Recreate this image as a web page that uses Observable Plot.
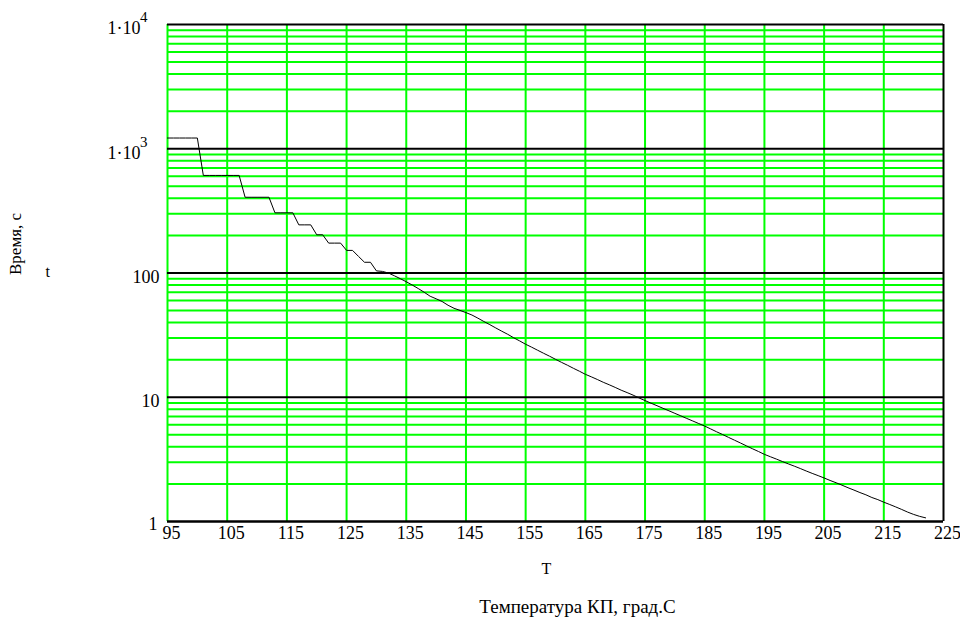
<!DOCTYPE html>
<html>
<head>
<meta charset="utf-8">
<script src="https://cdn.jsdelivr.net/npm/d3@7"></script>
<script src="https://cdn.jsdelivr.net/npm/@observablehq/plot@0.6"></script>
<style>
  html, body { margin: 0; padding: 0; background: #fff; }
  svg text { font-family: "Liberation Serif", "Times New Roman", serif !important; }
</style>
</head>
<body>
<div id="chart"></div>
<script>
// Temperature samples (°C)
const temperature = [
  95, 96, 97, 98, 99, 100, 101, 102, 103, 104, 105, 106, 107, 108, 109, 110,
  111, 112, 113, 114, 115, 116, 117, 118, 119, 120, 121, 122, 123, 124, 125,
  126, 127, 128, 129, 130, 131, 132, 133, 134, 135, 136, 137, 138, 139, 140,
  141, 142, 143, 144, 145, 146, 147, 148, 149, 150, 151, 152, 153, 154, 155,
  156, 157, 158, 159, 160, 161, 162, 163, 164, 165, 166, 167, 168, 169, 170,
  171, 172, 173, 174, 175, 176, 177, 178, 179, 180, 181, 182, 183, 184, 185,
  186, 187, 188, 189, 190, 191, 192, 193, 194, 195, 196, 197, 198, 199, 200,
  201, 202, 203, 204, 205, 206, 207, 208, 209, 210, 211, 212, 213, 214, 215,
  216, 217, 218, 219, 220, 221, 222
];
// Time (s)
const time = [
  1220, 1220, 1220, 1220, 1220, 1220,
  610, 610, 610, 610, 610, 610, 610,
  407, 407, 407, 407, 407,
  305, 305, 305, 305,
  244, 244, 244,
  203, 203,
  174, 174, 174,
  152, 152,
  136,
  122, 122,
  104, 103, 100,
  95, 90, 85, 80, 75, 70, 65, 62, 59, 55, 52, 50, 48,
  45.9, 43.3, 40.7, 38.4, 36.1, 34.0, 32.1, 30.1, 28.4, 26.7,
  25.3, 23.9, 22.6, 21.4, 20.2, 19.1, 18.1, 17.1, 16.2, 15.3,
  14.6, 13.9, 13.2, 12.6, 12.0, 11.4, 10.9, 10.4, 9.87, 9.4,
  8.96, 8.55, 8.15, 7.78, 7.42, 7.08, 6.75, 6.44, 6.14, 5.86,
  5.56, 5.27, 5.01, 4.75, 4.51, 4.28, 4.06, 3.85, 3.66, 3.47,
  3.32, 3.18, 3.04, 2.91, 2.79, 2.67, 2.55, 2.44, 2.34, 2.24,
  2.14, 2.05, 1.96, 1.87, 1.79, 1.71, 1.64, 1.56, 1.50, 1.43,
  1.37, 1.31, 1.25, 1.19, 1.14, 1.10, 1.07
];

// Axis ticks
const xTicks = [95, 105, 115, 125, 135, 145, 155, 165, 175, 185, 195, 205, 215, 225];
const xGrid = [95, 105, 115, 125, 135, 145, 155, 165, 175, 185, 195, 205, 215];
const decades = [1, 10, 100, 1000, 10000];
const minorMultipliers = [2, 3, 4, 5, 6, 7, 8, 9];
const plainYLabels = [{v: 100, s: "100"}, {v: 10, s: "10"}];
const powerYLabels = [{v: 10000, base: "1·10", exp: "4"}, {v: 1000, base: "1·10", exp: "3"}];
const oneLabel = [{v: 1, s: "1"}];

const xLabel = "Температура КП, град.С";
const xVar = "T";
const yLabel = "Время, с";
const yVar = "t";

const data = temperature.map((T, i) => ({T, t: time[i]}));
const minorTicks = decades.slice(0, 4).flatMap(d => minorMultipliers.map(k => k * d));

const font = "'Liberation Serif', 'Times New Roman', serif";
const green = "#00ff00";

const chart = Plot.plot({
  width: 960,
  height: 626,
  marginLeft: 167,
  marginRight: 17,
  marginTop: 24,
  marginBottom: 105,
  x: {domain: [95, 225], axis: null},
  y: {type: "log", domain: [1, 10000], axis: null},
  style: {fontFamily: font, background: "#fff", color: "#000"},
  marks: [
    Plot.ruleX(xGrid, {stroke: green, strokeWidth: 2}),
    Plot.ruleY(minorTicks, {stroke: green, strokeWidth: 2}),
    Plot.ruleY(decades.slice(1, 4), {stroke: "#000", strokeWidth: 2}),
    Plot.ruleY([10000], {stroke: "#000", strokeWidth: 2}),
    Plot.ruleX([225], {stroke: "#000", strokeWidth: 2}),
    Plot.ruleY([1], {stroke: "#000", strokeWidth: 2.5}),
    Plot.line(data, {x: "T", y: "t", stroke: "#000", strokeWidth: 1}),
    // x tick labels
    Plot.text(xTicks, {x: d => d, frameAnchor: "bottom", dy: 17, dx: 4, text: d => String(d), fontSize: 18, fill: "#000"}),
    // y tick labels
    Plot.text(plainYLabels, {y: "v", text: "s", frameAnchor: "left", textAnchor: "end", dx: -8, dy: 4, fontSize: 18, fill: "#000"}),
    Plot.text(oneLabel, {y: "v", text: "s", frameAnchor: "left", textAnchor: "end", dx: -10, dy: 3, fontSize: 18, fill: "#000"}),
    Plot.text(powerYLabels, {y: "v", text: "base", frameAnchor: "left", textAnchor: "end", dx: -27, dy: 4, fontSize: 18, fill: "#000"}),
    Plot.text(powerYLabels, {y: "v", text: "exp", frameAnchor: "left", textAnchor: "end", dx: -20, dy: -7, fontSize: 15, fill: "#000"}),
    // axis titles
    Plot.text([xVar], {frameAnchor: "bottom", dx: -9, dy: 52, fontSize: 16, fill: "#000"}),
    Plot.text([xLabel], {frameAnchor: "bottom", dx: 22, dy: 91, fontSize: 19, fill: "#000"}),
    Plot.text([yVar], {frameAnchor: "left", dx: -122, dy: -1, fontSize: 16, fill: "#000"}),
    Plot.text([yLabel], {frameAnchor: "left", dx: -152, dy: 2, rotate: -90, fontSize: 17, fill: "#000"})
  ]
});
document.getElementById("chart").appendChild(chart);
</script>
</body>
</html>
